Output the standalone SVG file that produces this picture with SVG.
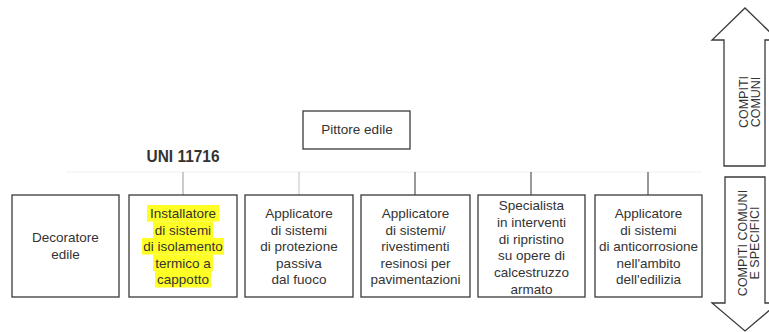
<svg xmlns="http://www.w3.org/2000/svg" width="769" height="332" viewBox="0 0 769 332">
<style>
.box{fill:#fff;stroke:#3a3a3a;stroke-width:1.3}
.t{font-family:"Liberation Sans",Arial,sans-serif;font-size:13.5px;fill:#333;text-anchor:middle}
.a{font-family:"Liberation Sans",Arial,sans-serif;font-size:12.5px;fill:#333;text-anchor:middle}
.hl{fill:#ffff26}
.arr{fill:#fff;stroke:#3a3a3a;stroke-width:1.3;stroke-linejoin:miter}
</style>
<rect width="769" height="332" fill="#fff"/>
<g id="connectors" fill="none">
<line x1="66" y1="172" x2="702" y2="172" stroke="#efefef" stroke-width="1"/>
<line x1="183" y1="172" x2="183" y2="195" stroke="#aaa" stroke-width="1.2"/>
<line x1="299" y1="172" x2="299" y2="195" stroke="#ccc" stroke-width="1.2"/>
<line x1="415" y1="172" x2="415" y2="195" stroke="#555" stroke-width="1.2"/>
<line x1="531" y1="172" x2="531" y2="195" stroke="#555" stroke-width="1.2"/>
<line x1="648" y1="172" x2="648" y2="195" stroke="#555" stroke-width="1.2"/>
</g>
<g id="pittore">
<rect class="box" x="303" y="111" width="107" height="38"/>
<text class="t" x="357" y="134">Pittore edile</text>
</g>
<g id="uni">
<text x="183" y="162" font-family="'Liberation Sans',Arial,sans-serif" font-weight="bold" font-size="17" fill="#333" text-anchor="middle" textLength="73" lengthAdjust="spacingAndGlyphs">UNI 11716</text>
</g>
<g id="decoratore">
<rect class="box" x="12" y="195" width="107" height="102"/>
<text class="t"><tspan x="65.5" y="242">Decoratore</tspan><tspan x="65.5" y="258.5">edile</tspan></text>
</g>
<g id="installatore">
<rect class="box" x="129" y="195" width="108" height="102"/>
<rect class="hl" x="147" y="205" width="72" height="16.6"/>
<rect class="hl" x="153" y="221.5" width="60" height="16.6"/>
<rect class="hl" x="142" y="238" width="82" height="16.6"/>
<rect class="hl" x="153" y="254.5" width="60" height="16.6"/>
<rect class="hl" x="155" y="271" width="56" height="16.5"/>
<text class="t"><tspan x="183" y="218">Installatore</tspan><tspan x="183" y="234.5">di sistemi</tspan><tspan x="183" y="251">di isolamento</tspan><tspan x="183" y="267.5">termico a</tspan><tspan x="183" y="284">cappotto</tspan></text>
</g>
<g id="protezione">
<rect class="box" x="245" y="195" width="108" height="102"/>
<text class="t"><tspan x="299" y="218">Applicatore</tspan><tspan x="299" y="234.5">di sistemi</tspan><tspan x="299" y="251">di protezione</tspan><tspan x="299" y="267.5">passiva</tspan><tspan x="299" y="284">dal fuoco</tspan></text>
</g>
<g id="resinosi">
<rect class="box" x="361" y="195" width="109" height="102"/>
<text class="t"><tspan x="415.5" y="218">Applicatore</tspan><tspan x="415.5" y="234.5">di sistemi/</tspan><tspan x="415.5" y="251">rivestimenti</tspan><tspan x="415.5" y="267.5">resinosi per</tspan><tspan x="415.5" y="284">pavimentazioni</tspan></text>
</g>
<g id="specialista">
<rect class="box" x="478" y="195" width="107" height="102"/>
<text class="t"><tspan x="531.5" y="210">Specialista</tspan><tspan x="531.5" y="226.8">in interventi</tspan><tspan x="531.5" y="243.6">di ripristino</tspan><tspan x="531.5" y="260.4">su opere di</tspan><tspan x="531.5" y="277.2">calcestruzzo</tspan><tspan x="531.5" y="294">armato</tspan></text>
</g>
<g id="anticorrosione">
<rect class="box" x="595" y="195" width="107" height="102"/>
<text class="t"><tspan x="648.5" y="218">Applicatore</tspan><tspan x="648.5" y="234.5">di sistemi</tspan><tspan x="648.5" y="251">di anticorrosione</tspan><tspan x="648.5" y="267.5">nell'ambito</tspan><tspan x="648.5" y="284">dell'edilizia</tspan></text>
</g>
<g id="arrow-up">
<path class="arr" d="M724,166 L724,40 L712,40 L745,8 L778,40 L765,40 L765,166 Z"/>
<text class="a" transform="translate(748,102) rotate(-90)">COMPITI</text>
<text class="a" transform="translate(760,102) rotate(-90)">COMUNI</text>
</g>
<g id="arrow-down">
<path class="arr" d="M725,177 L765,177 L765,303 L778,303 L745,331 L712,303 L725,303 Z"/>
<text class="a" transform="translate(747,243) rotate(-90)">COMPITI COMUNI</text>
<text class="a" transform="translate(759,243) rotate(-90)">E SPECIFICI</text>
</g>
</svg>
